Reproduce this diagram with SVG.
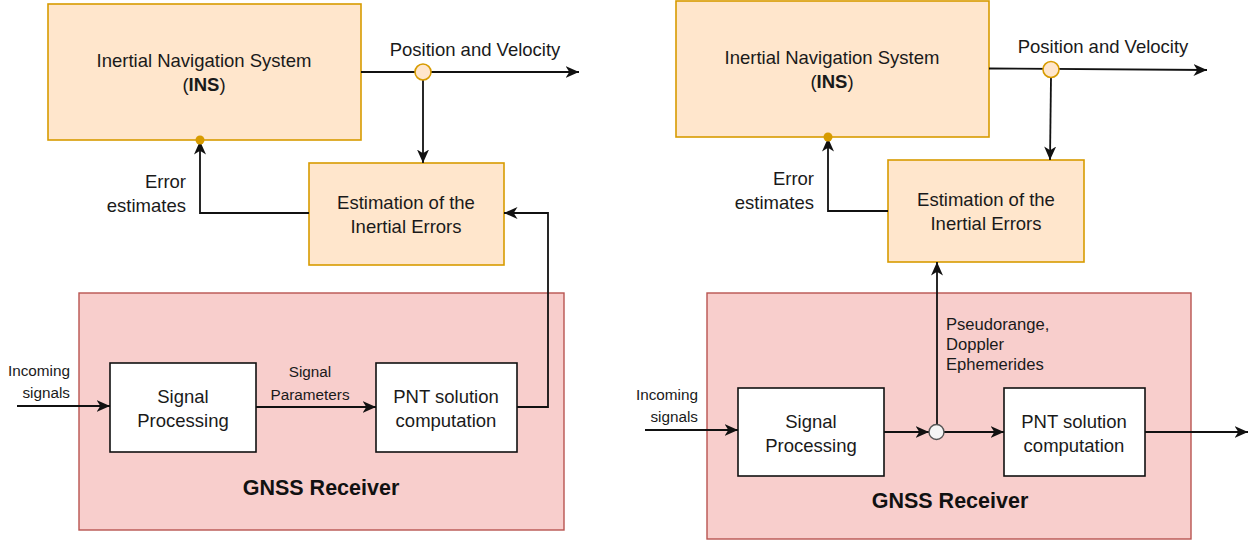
<svg xmlns="http://www.w3.org/2000/svg" width="1258" height="543" viewBox="0 0 1258 543">
  <style>
    .ins { fill: #ffe6cc; stroke: #d79b00; stroke-width: 1.6; }
    .gnss { fill: #f8cecc; stroke: #b85450; stroke-width: 1.4; }
    .blk { fill: #ffffff; stroke: #111111; stroke-width: 1.6; }
    .t { font-family: "Liberation Sans", Arial, sans-serif; font-size: 18.5px; fill: #1a1a1a; }
    .g { font-family: "Liberation Sans", Arial, sans-serif; font-size: 21.5px; font-weight: bold; fill: #111111; text-anchor: middle; }
    .s { font-family: "Liberation Sans", Arial, sans-serif; font-size: 15.3px; fill: #1a1a1a; }
    .p { font-family: "Liberation Sans", Arial, sans-serif; font-size: 16.6px; fill: #1a1a1a; }
    .b { font-weight: bold; }
    .c { text-anchor: middle; }
    .e { text-anchor: end; }
    .w { fill: none; stroke: #111111; stroke-width: 1.8; }
    .tap { fill: #ffe6cc; stroke: #d79b00; stroke-width: 1.6; }
    .dot { fill: #d79b00; }
    .sum { fill: #f5f5f5; stroke: #555555; stroke-width: 1.4; }
  </style>
  <defs>
    <marker id="arr" markerUnits="userSpaceOnUse" viewBox="0 0 14 14" markerWidth="14" markerHeight="14" refX="13.5" refY="7" orient="auto">
      <path d="M0,1 L13.5,7 L0,13 L3.8,7 Z" fill="#111111"/>
    </marker>
  </defs>

  <!-- Loosely coupled architecture (left) -->
  <g id="left-gnss">
    <rect class="gnss" x="79" y="293" width="485" height="237"/>
    <text class="g" x="321" y="495">GNSS Receiver</text>
  </g>
  <g id="left-ins">
    <rect class="ins" x="48" y="4" width="313" height="136"/>
    <text class="t c" x="204" y="67">Inertial Navigation System</text>
    <text class="t c" x="204" y="91">(<tspan class="b">INS</tspan>)</text>
  </g>
  <g id="left-est">
    <rect class="ins" x="309" y="163" width="195" height="102"/>
    <text class="t c" x="406" y="209">Estimation of the</text>
    <text class="t c" x="406" y="233">Inertial Errors</text>
  </g>
  <g id="left-sp">
    <rect class="blk" x="110" y="363" width="146" height="89"/>
    <text class="t c" x="183" y="403">Signal</text>
    <text class="t c" x="183" y="427">Processing</text>
  </g>
  <g id="left-pnt">
    <rect class="blk" x="376" y="363" width="141" height="89"/>
    <text class="t c" x="446" y="403">PNT solution</text>
    <text class="t c" x="446" y="427">computation</text>
  </g>
  <g id="left-connectors">
    <line class="w" x1="361" y1="72" x2="579" y2="72" marker-end="url(#arr)"/>
    <line class="w" x1="423" y1="80" x2="423" y2="163" marker-end="url(#arr)"/>
    <circle class="tap" cx="423" cy="72" r="8"/>
    <polyline class="w" points="309,213 200,213 200,141" marker-end="url(#arr)"/>
    <circle class="dot" cx="200" cy="140" r="4.5"/>
    <polyline class="w" points="517,407 548,407 548,213 504,213" marker-end="url(#arr)"/>
    <line class="w" x1="17" y1="406" x2="110" y2="406" marker-end="url(#arr)"/>
    <line class="w" x1="256" y1="407" x2="376" y2="407" marker-end="url(#arr)"/>
    <text class="t c" x="475" y="56">Position and Velocity</text>
    <text class="t e" x="186" y="188">Error</text>
    <text class="t e" x="186" y="212">estimates</text>
    <text class="s e" x="70" y="376">Incoming</text>
    <text class="s e" x="70" y="398">signals</text>
    <text class="s c" x="310" y="377">Signal</text>
    <text class="s c" x="310" y="400">Parameters</text>
  </g>

  <!-- Tightly coupled architecture (right) -->
  <g id="right-gnss">
    <rect class="gnss" x="707" y="293" width="484" height="246"/>
    <text class="g" x="950" y="508">GNSS Receiver</text>
  </g>
  <g id="right-ins">
    <rect class="ins" x="676" y="1" width="313" height="136"/>
    <text class="t c" x="832" y="64">Inertial Navigation System</text>
    <text class="t c" x="832" y="88">(<tspan class="b">INS</tspan>)</text>
  </g>
  <g id="right-est">
    <rect class="ins" x="888" y="160" width="196" height="102"/>
    <text class="t c" x="986" y="206">Estimation of the</text>
    <text class="t c" x="986" y="230">Inertial Errors</text>
  </g>
  <g id="right-sp">
    <rect class="blk" x="738" y="388" width="146" height="88"/>
    <text class="t c" x="811" y="428">Signal</text>
    <text class="t c" x="811" y="452">Processing</text>
  </g>
  <g id="right-pnt">
    <rect class="blk" x="1004" y="388" width="141" height="88"/>
    <text class="t c" x="1074" y="428">PNT solution</text>
    <text class="t c" x="1074" y="452">computation</text>
  </g>
  <g id="right-connectors">
    <line class="w" x1="989" y1="68.5" x2="1207" y2="70" marker-end="url(#arr)"/>
    <line class="w" x1="1051" y1="77" x2="1050" y2="160" marker-end="url(#arr)"/>
    <circle class="tap" cx="1051" cy="69.5" r="8"/>
    <polyline class="w" points="888,211 828,211 828,138" marker-end="url(#arr)"/>
    <circle class="dot" cx="828" cy="137" r="4.5"/>
    <line class="w" x1="645" y1="430" x2="738" y2="430" marker-end="url(#arr)"/>
    <line class="w" x1="884" y1="432" x2="929" y2="432" marker-end="url(#arr)"/>
    <line class="w" x1="944" y1="432" x2="1004" y2="432" marker-end="url(#arr)"/>
    <line class="w" x1="937" y1="425" x2="937" y2="262" marker-end="url(#arr)"/>
    <circle class="sum" cx="936.5" cy="432" r="7.5"/>
    <line class="w" x1="1145" y1="432" x2="1248" y2="432" marker-end="url(#arr)"/>
    <text class="t c" x="1103" y="53">Position and Velocity</text>
    <text class="t e" x="814" y="185">Error</text>
    <text class="t e" x="814" y="209">estimates</text>
    <text class="s e" x="698" y="400">Incoming</text>
    <text class="s e" x="698" y="422">signals</text>
    <text class="p" x="946" y="330">Pseudorange,</text>
    <text class="p" x="946" y="350">Doppler</text>
    <text class="p" x="946" y="370">Ephemerides</text>
  </g>
</svg>
